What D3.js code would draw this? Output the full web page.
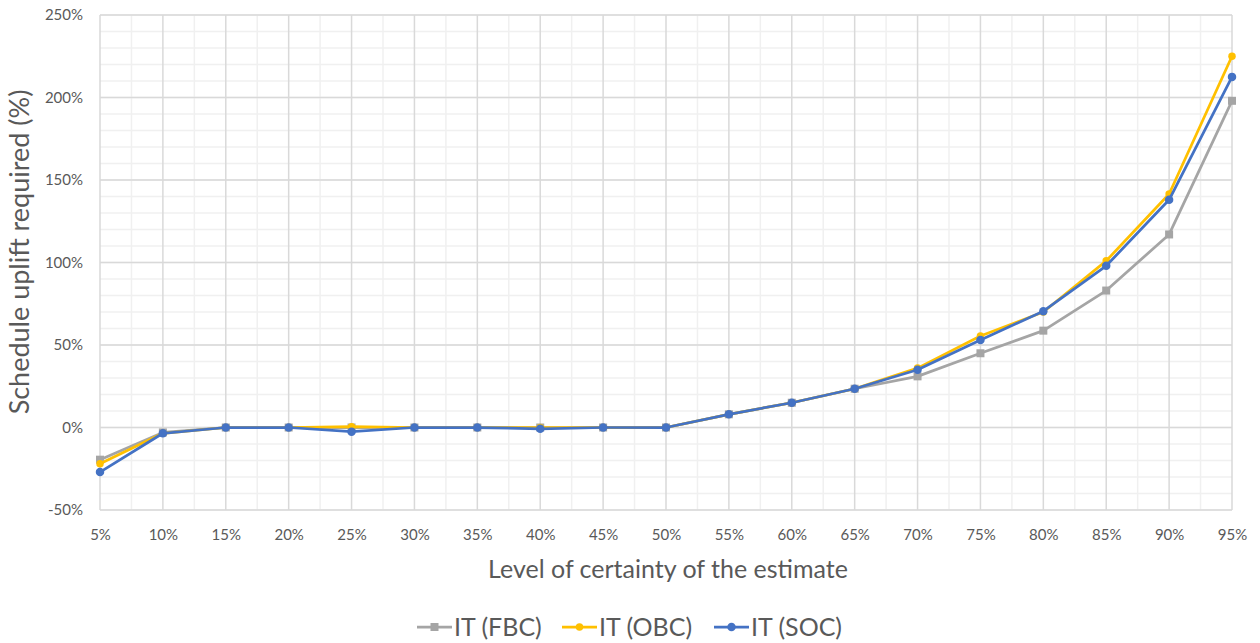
<!DOCTYPE html>
<html><head><meta charset="utf-8">
<script src="https://cdn.jsdelivr.net/npm/d3@7"></script>
<style>
html,body{margin:0;padding:0;background:#fff;}
svg text{font-family:Lato,"Liberation Sans",sans-serif;fill:#595959;}
</style></head>
<body><svg id="chart" width="1260" height="643"></svg>
<script>
const categories = ["5%","10%","15%","20%","25%","30%","35%","40%","45%","50%","55%","60%","65%","70%","75%","80%","85%","90%","95%"];
const fbc = [-19.5,-3,0,0,0,0,0,0,0,0,8,15,23.5,31,45,58.7,83,117,198];
const obc = [-22,-3.5,0,0,0.5,0,0,0,0,0,8,15,23.5,36,55.5,70,101,141.5,225];
const soc = [-27,-3.5,0,0,-2.5,0,0,-0.8,0,0,8,15,23.5,35,53,70.5,98,138,212.5];
const yTicks = [-50,0,50,100,150,200,250];
const seriesNames = ["IT (FBC)","IT (OBC)","IT (SOC)"];

const svg = d3.select("#chart");
const L = 100, R = 1232, T = 15, B = 510;
const x = d3.scaleLinear().domain([0, categories.length-1]).range([L, R]);
const y = d3.scaleLinear().domain([-50, 250]).range([B, T]);

const g = svg.append("g");
g.selectAll(".hmin").data(d3.range(-50, 251, 10)).join("line")
  .attr("x1", L).attr("x2", R).attr("y1", d=>y(d)).attr("y2", d=>y(d))
  .attr("stroke", "#f0f0f0").attr("stroke-width", 1.5);
g.selectAll(".vmin").data(d3.range(0.5, categories.length-1, 1)).join("line")
  .attr("x1", d=>x(d)).attr("x2", d=>x(d)).attr("y1", T).attr("y2", B)
  .attr("stroke", "#f0f0f0").attr("stroke-width", 1.5);
g.selectAll(".hmaj").data(yTicks).join("line")
  .attr("x1", L).attr("x2", R).attr("y1", d=>y(d)).attr("y2", d=>y(d))
  .attr("stroke", "#d9d9d9").attr("stroke-width", 1.5);
g.selectAll(".vmaj").data(d3.range(0, categories.length)).join("line")
  .attr("x1", d=>x(d)).attr("x2", d=>x(d)).attr("y1", T).attr("y2", B)
  .attr("stroke", "#d9d9d9").attr("stroke-width", 1.5);

const yAxis = d3.axisLeft(y).tickValues(yTicks).tickFormat(d=>d+"%").tickSize(0).tickPadding(17);
const ya = svg.append("g").attr("transform", `translate(${L},0)`).call(yAxis);
ya.select(".domain").remove();
ya.selectAll("text").style("font-size","15px").style("font-family","Lato").attr("fill","#595959");

const xAxis = d3.axisBottom(x).tickValues(d3.range(0, categories.length)).tickFormat(i=>categories[i]).tickSize(0).tickPadding(19);
const xa = svg.append("g").attr("transform", `translate(0,${B})`).call(xAxis);
xa.select(".domain").remove();
xa.selectAll("text").style("font-size","15px").style("font-family","Lato").attr("fill","#595959");

svg.append("text").attr("transform", `translate(29,252) rotate(-90)`)
  .attr("text-anchor","middle").style("font-size","27px").text("Schedule uplift required (%)");
svg.append("text").attr("x", 668).attr("y", 578)
  .attr("text-anchor","middle").style("font-size","25px").text("Level of certainty of the estimate");

const colors = ["#A5A5A5","#FFC000","#4472C4"];
const data = [fbc, obc, soc];
const line = d3.line().x((d,i)=>x(i)).y(d=>y(d));
data.forEach((vals, k) => {
  svg.append("path").datum(vals).attr("d", line).attr("fill","none")
    .attr("stroke", colors[k]).attr("stroke-width", 2.75).attr("stroke-linejoin","round");
  if (k === 0) {
    svg.selectAll(null).data(vals).join("rect")
      .attr("x",(d,i)=>x(i)-4).attr("y",d=>y(d)-4).attr("width",8).attr("height",8).attr("fill",colors[k]);
  } else {
    svg.selectAll(null).data(vals).join("circle")
      .attr("cx",(d,i)=>x(i)).attr("cy",d=>y(d)).attr("r", k===1?3.75:4.25).attr("fill",colors[k]);
  }
});

const legX = [417, 562, 714];
const legY = 627;
seriesNames.forEach((name, k) => {
  const lg = svg.append("g").attr("transform", `translate(${legX[k]},${legY})`);
  lg.append("line").attr("x1",0).attr("x2",35).attr("y1",0).attr("y2",0).attr("stroke",colors[k]).attr("stroke-width",2.75);
  if (k===0) lg.append("rect").attr("x",13.5).attr("y",-4).attr("width",8).attr("height",8).attr("fill",colors[k]);
  else lg.append("circle").attr("cx",17.5).attr("cy",0).attr("r",k===1?3.75:4.25).attr("fill",colors[k]);
  lg.append("text").attr("x",37).attr("y",9).style("font-size","25px").text(name);
});
</script></body></html>
